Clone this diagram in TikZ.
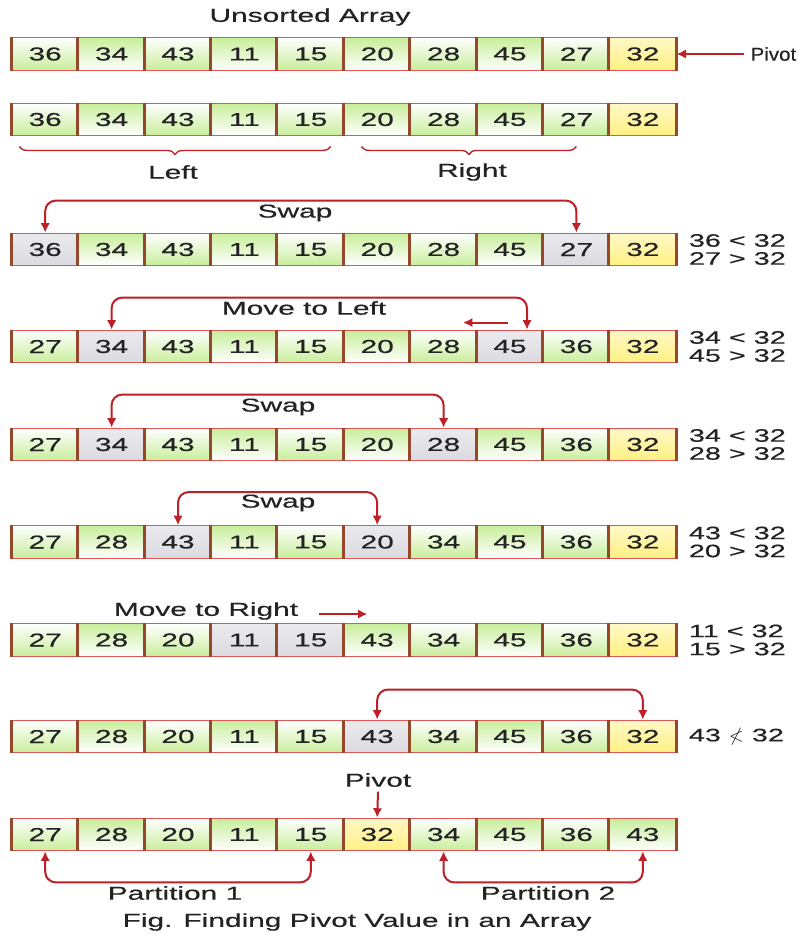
\documentclass[tikz,border=0pt]{standalone}
\usepackage{amssymb}
\usepackage{fontspec}
\setmainfont{Liberation Sans}[FakeStretch=1.6,FakeBold=0.5]
\newfontfamily\plainsans{Liberation Sans}[FakeStretch=1.1,FakeBold=0.5]
\usetikzlibrary{arrows.meta,positioning,calc,decorations.pathreplacing}
\definecolor{linered}{RGB}{190,32,40}
\definecolor{edgered}{RGB}{228,86,86}
\definecolor{sepbrown}{RGB}{150,72,45}
\definecolor{cellgreen}{RGB}{200,238,155}
\definecolor{cellgray}{RGB}{218,218,224}
\definecolor{pivyellow}{RGB}{255,240,130}
\definecolor{inkgray}{RGB}{35,35,35}

\tikzset{
  cell/.style={rectangle,draw=edgered,line width=1pt,minimum width=49.8pt,minimum height=24.4pt,
    inner sep=0pt,text=inkgray,font=\fontsize{14}{14}\selectfont},
  n1/.style={top color=white,bottom color=cellgreen},
  n0/.style={top color=cellgreen,bottom color=white},
  hl1/.style={top color=cellgray!55!white,bottom color=cellgray},
  hl0/.style={hl1},
  pv1/.style={top color=pivyellow!45!white,bottom color=pivyellow},
  pv0/.style={pv1},
  sep/.style={sepbrown,line width=2.2pt},
  lbl/.style={text=inkgray,font=\fontsize{14}{14}\selectfont},
  note/.style={text=inkgray,align=left,inner sep=0pt,font=\fontsize{13.5}{13.5}\selectfont},
  link/.style={linered,line width=1.5pt,-{Latex[length=7pt,width=7pt]}},
  pair/.style={linered,line width=1.5pt,rounded corners=8pt,{Latex[length=7pt,width=7pt]}-{Latex[length=7pt,width=7pt]}},
  brc/.style={linered,line width=1pt,decorate,decoration={brace,mirror,amplitude=6pt}}
}

% one row of ten cells: name, y, value/kind list
\newcommand{\arrayrow}[3]{%
  \foreach \val/\kind [count=\i] in {#3}{
    \pgfmathtruncatemacro{\odd}{mod(\i,2)}
    \edef\ck{\kind\odd}
    \node[cell,\ck] (#1c\i) at ({12+(\i-0.5)*66.4},#2) {\val};
  }
  \foreach \i in {1,...,10}
    \draw[sep] (#1c\i.north west) -- (#1c\i.south west);
  \draw[sep] (#1c10.north east) -- (#1c10.south east);
}

\begin{document}
\begin{tikzpicture}[x=0.75pt,y=-0.75pt]
\fill[white] (0,0) rectangle (799,937);
\useasboundingbox (0,0) rectangle (799,937);
% rows
\arrayrow{r1}{54}{36/n,34/n,43/n,11/n,15/n,20/n,28/n,45/n,27/n,32/pv}
\arrayrow{r2}{119.5}{36/n,34/n,43/n,11/n,15/n,20/n,28/n,45/n,27/n,32/pv}
\arrayrow{r3}{249.5}{36/hl,34/n,43/n,11/n,15/n,20/n,28/n,45/n,27/hl,32/pv}
\arrayrow{r4}{346.5}{27/n,34/hl,43/n,11/n,15/n,20/n,28/n,45/hl,36/n,32/pv}
\arrayrow{r5}{444.5}{27/n,34/hl,43/n,11/n,15/n,20/n,28/hl,45/n,36/n,32/pv}
\arrayrow{r6}{542}{27/n,28/n,43/hl,11/n,15/n,20/hl,34/n,45/n,36/n,32/pv}
\arrayrow{r7}{640}{27/n,28/n,20/n,11/hl,15/hl,43/n,34/n,45/n,36/n,32/pv}
\arrayrow{r8}{736.5}{27/n,28/n,20/n,11/n,15/n,43/hl,34/n,45/n,36/n,32/pv}
\arrayrow{r9}{834.5}{27/n,28/n,20/n,11/n,15/n,32/pv,34/n,45/n,36/n,43/n}
% titles
\node[lbl] (title) at (310,17) {Unsorted Array};
\node[lbl,anchor=west,font=\plainsans\fontsize{14}{14}\selectfont,inner sep=1pt] (pivtop) at (749,54) {Pivot};
\draw[link] ([xshift=-4pt]pivtop.west) -- (r1c10.east);
% left / right braces
\draw[brc] ([shift={(8,10)}]r2c1.south west) -- ([shift={(-14,10)}]r2c5.south east);
\draw[brc] ([shift={(18,10)}]r2c6.south west) -- ([yshift=-7.5pt]r2c9.south);
\node[lbl] (leftlbl) at (173,172) {Left};
\node[lbl] (rightlbl) at (472,172) {Right};
% swap steps
\draw[pair] (r3c1.north) -- ++(0,-32) -| (r3c9.north);
\node[lbl] (swap1) at (295,213) {Swap};
\draw[pair] (r4c2.north) -- ++(0,-32) -| ([xshift=12.75pt]r4c8.north);
\node[lbl] (mvleft) at (304,308) {Move to Left};
\draw[link] ([shift={(32,-7)}]r4c8.north west) -- ([shift={(-13,-7)}]r4c8.north west);
\draw[pair] (r5c2.north) -- ++(0,-33) -| (r5c7.north);
\node[lbl] (swap2) at (278,407) {Swap};
\draw[pair] (r6c3.north) -- ++(0,-33) -| (r6c6.north);
\node[lbl] (swap3) at (278,503) {Swap};
\node[lbl] (mvright) at (206,611) {Move to Right};
\draw[link] ([shift={(-24,-9)}]r7c6.north west) -- ([shift={(24,-9)}]r7c6.north west);
\draw[pair] (r8c6.north) -- ++(0,-30) -| (r8c10.north);
% comparisons
\node[note,anchor=west] (cmp3) at ([xshift=9pt]r3c10.east) {36 < 32\\27 > 32};
\node[note,anchor=west] (cmp4) at ([xshift=9pt]r4c10.east) {34 < 32\\45 > 32};
\node[note,anchor=west] (cmp5) at ([xshift=9pt]r5c10.east) {34 < 32\\28 > 32};
\node[note,anchor=west] (cmp6) at ([xshift=9pt]r6c10.east) {43 < 32\\20 > 32};
\node[note,anchor=west] (cmp7) at ([xshift=9pt]r7c10.east) {11 < 32\\15 > 32};
\node[note,anchor=west] (cmp8) at ([xshift=9pt]r8c10.east) {43 {\Large$\nless$} 32};
% final pivot and partitions
\node[lbl] (pivbot) at (378,780) {Pivot};
\draw[link] (pivbot.south) -- (r9c6.north);
\draw[pair] (r9c1.south) -- ++(0,31) -| (r9c5.south);
\draw[pair] (r9c7.south) -- ++(0,31) -| (r9c10.south);
\node[lbl] (part1) at (175,893) {Partition 1};
\node[lbl] (part2) at (548,893) {Partition 2};
\node[lbl] (caption) at (357,922) {Fig. Finding Pivot Value in an Array};
\end{tikzpicture}
\end{document}
